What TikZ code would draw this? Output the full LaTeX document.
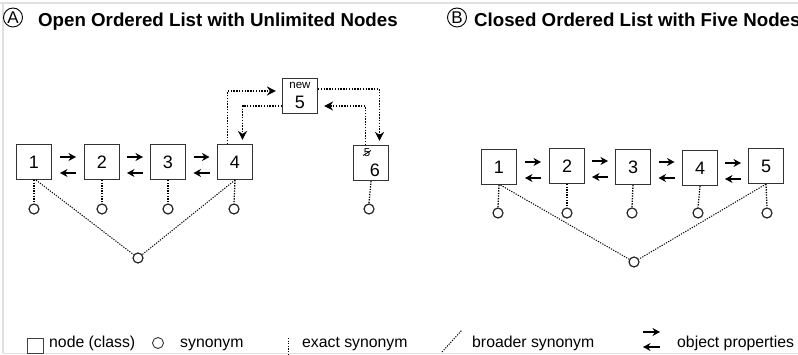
\documentclass[tikz,border=0pt]{standalone}
\usepackage{fontspec}
\setmainfont{Liberation Sans}
\usetikzlibrary{arrows.meta,calc}
\begin{document}
\begin{tikzpicture}[x=1pt,y=-1pt,
  box/.style={draw=black!80, line width=1.1pt, minimum width=35pt, minimum height=35pt, inner sep=0pt, font=\fontsize{18}{18}\selectfont},
  syn/.style={circle, draw=black!85, line width=1.2pt, minimum size=10pt, inner sep=0pt},
  exact/.style={line width=1.3pt, dash pattern=on 1.3pt off 1.3pt},
  broader/.style={line width=1pt, dash pattern=on 1.2pt off 1.3pt},
  objprop/.style={line width=1.7pt, -{Stealth[length=7.5pt,width=8pt]}},
  dotarrow/.style={line width=1.3pt, dash pattern=on 1.4pt off 1.4pt, -{Stealth[length=9pt,width=9pt]}},
  title/.style={anchor=base west, inner sep=0pt, font=\fontsize{18.7}{18.7}\selectfont\bfseries},
  circletag/.style={circle, draw=black, line width=0.9pt, minimum size=19pt, inner sep=0pt, font=\fontsize{17}{17}\selectfont},
  legtext/.style={anchor=base west, inner sep=0pt, font=\fontsize{15.8}{15.8}\selectfont},
  small/.style={inner sep=0pt, font=\fontsize{11.5}{11.5}\selectfont},
  digit/.style={inner sep=0pt, font=\fontsize{18}{18}\selectfont}
]
\useasboundingbox (0,0) rectangle (798,355);
% frame
\draw[black!12, line width=2pt] (-2,3) -- (805,3);
\draw[black!12, line width=1.2pt] (3,3) -- (3,353.5);
\draw[black!12, line width=1.5pt] (3,353.5) -- (805,353.5);

% titles
\node[circletag] (tagA) at (13,17.5) {A};
\node[title] (titA) at (38,27) {Open Ordered List with Unlimited Nodes};
\node[circletag] (tagB) at (457,17.5) {B};
\node[title] (titB) at (474,27) {Closed Ordered List with Five Nodes};

% ---------- Panel A ----------
\node[box] (n1) at (34,162) {1};
\node[box] (n2) at (102,162) {2};
\node[box] (n3) at (168,162) {3};
\node[box] (n4) at (235,162) {4};
\node[box] (n6) at (371,163) {};
\node[box] (nw) at (300,96) {};
\node[small] (nwlab) at (300,85.5) {new};
\node[digit] (nwnum) at (300,102) {5};
\node[small] (old5) at (367,153) {5};
\draw[line width=0.8pt] ($(old5.center)+(-4,2.5)$) -- ($(old5.center)+(4,-2.5)$);
\node[digit] (n6num) at (375,170) {6};

\node[syn] (s1) at (34,209) {};
\node[syn] (s2) at (102,209) {};
\node[syn] (s3) at (168,209) {};
\node[syn] (s4) at (234,209) {};
\node[syn] (s6) at (369,209) {};
\node[syn] (b1) at (138,258) {};

\foreach \a/\s in {n1/s1,n2/s2,n3/s3,n4/s4,n6/s6}
  \draw[exact] (\a.south) -- (\s.north);
\draw[broader] ($(n1.south)+(2,0)$) -- (b1);
\draw[broader] (n4.south) -- (b1);

% ---------- Panel B ----------
\node[box] (m1) at (499,167) {1};
\node[box] (m2) at (567,166) {2};
\node[box] (m3) at (633,167) {3};
\node[box] (m4) at (700,168) {4};
\node[box] (m5) at (766,166) {5};

\node[syn] (t1) at (498,213) {};
\node[syn] (t2) at (567,213) {};
\node[syn] (t3) at (632,213) {};
\node[syn] (t4) at (698,213) {};
\node[syn] (t5) at (767,213) {};
\node[syn] (b2) at (634,262) {};

\foreach \a/\s in {m1/t1,m2/t2,m3/t3,m4/t4,m5/t5}
  \draw[exact] (\a.south) -- (\s.north);
\draw[broader] ($(m1.south)+(1.5,0)$) -- (b2);
\draw[broader] (m5.south) -- (b2);

% object property arrows
\foreach \a/\b in {n1/n2,n2/n3,n3/n4,m1/m2,m2/m3,m3/m4,m4/m5}{
  \path ($(\a.east)!0.5!(\b.west)$) coordinate (mx);
  \coordinate (mid) at (mx |- \a.east);
  \draw[objprop] ($(mid)+(-8,-5)$) -- ($(mid)+(8,-5)$);
  \draw[objprop] ($(mid)+(8,11)$) -- ($(mid)+(-8,11)$);
}

% insertion arrows
\draw[dotarrow] ($(n4.north)+(-7.5,0)$) |- ($(nw.west)+(-6,-5)$);
\draw[dotarrow] ($(nw.west)+(0,10)$) -| ($(n4.north)+(7.5,-4)$);
\draw[dotarrow] ($(nw.east)+(0,-7)$) -| ($(n6.north)+(8.5,-4)$);
\draw[dotarrow] ($(n6.north)+(-5.5,0)$) |- ($(nw.east)+(6,10)$);

% ---------- Legend ----------
\node[draw=black!75, line width=0.9pt, minimum width=16pt, minimum height=15pt, inner sep=0pt] (lbox) at (35,345.5) {};
\node[legtext] (lnode) at (49,348) {node (class)};
\node[circle, draw=black!80, line width=0.9pt, minimum size=11pt, inner sep=0pt] (lsyn) at (158,343) {};
\node[legtext] (lsyntext) at (180,348) {synonym};
\coordinate (ex1) at (288,338);
\coordinate (ex2) at (288,356);
\draw[exact, line width=0.9pt] (ex1) -- (ex2);
\node[legtext] (lexact) at (302,348) {exact synonym};
\coordinate (br1) at (442,352);
\coordinate (br2) at (462,330);
\draw[broader] (br1) -- (br2);
\node[legtext] (lbroad) at (472,348) {broader synonym};
\coordinate (op1) at (643,332);
\coordinate (op2) at (660,332);
\coordinate (op3) at (660,347);
\coordinate (op4) at (643,347);
\draw[objprop] (op1) -- (op2);
\draw[objprop] (op3) -- (op4);
\node[legtext] (lobj) at (677,348) {object properties};
\end{tikzpicture}
\end{document}
